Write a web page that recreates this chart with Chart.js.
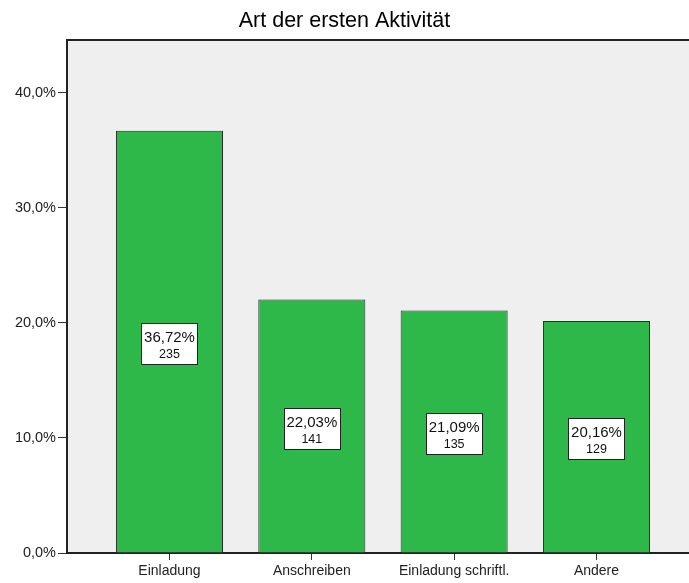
<!DOCTYPE html>
<html>
<head>
<meta charset="utf-8">
<script src="https://cdn.jsdelivr.net/npm/chart.js@4"></script>
<style>
html,body{margin:0;padding:0;background:#fff;overflow:hidden}
#wrap{width:689px;height:583px;position:relative}
</style>
</head>
<body>
<div id="wrap"><canvas id="c" width="689" height="583"></canvas></div>
<script>
const titleText = 'Art der ersten Aktivität';
const categories = ['Einladung', 'Anschreiben', 'Einladung schriftl.', 'Andere'];
const percents = [36.72, 22.03, 21.09, 20.16];
const counts = [235, 141, 135, 129];
const yTicks = [0, 10, 20, 30, 40];

const FONT = '"Liberation Sans", Arial, sans-serif';

const bgPlugin = {
  id: 'bg',
  beforeDraw(chart) {
    const {ctx, chartArea: a} = chart;
    ctx.save();
    ctx.fillStyle = '#efefef';
    ctx.fillRect(a.left, a.top, a.right - a.left, a.bottom - a.top);
    ctx.strokeStyle = '#222';
    ctx.lineWidth = 2;
    ctx.beginPath();
    ctx.moveTo(a.left, a.top);
    ctx.lineTo(a.right, a.top);
    ctx.stroke();
    ctx.restore();
  }
};

const labelPlugin = {
  id: 'boxLabels',
  afterDatasetsDraw(chart) {
    const {ctx} = chart;
    const meta = chart.getDatasetMeta(0);
    meta.data.forEach((bar, i) => {
      const l1 = percents[i].toFixed(2).replace('.', ',') + '%';
      const l2 = String(counts[i]);
      ctx.save();
      ctx.font = '15px ' + FONT;
      const w1 = ctx.measureText(l1).width;
      ctx.font = '12.5px ' + FONT;
      const w2 = ctx.measureText(l2).width;
      const bw = Math.round(Math.max(w1, w2) + 5);
      const bh = 41;
      const yc = (bar.y + bar.base) / 2 + 2;
      const top = Math.round(yc - bh / 2) + 0.5;
      const left = Math.round(bar.x - bw / 2) + 0.5;
      ctx.fillStyle = '#fff';
      ctx.fillRect(left, top, bw, bh);
      ctx.strokeStyle = '#222';
      ctx.lineWidth = 1;
      ctx.strokeRect(left, top, bw, bh);
      ctx.fillStyle = '#111';
      ctx.textAlign = 'center';
      ctx.textBaseline = 'alphabetic';
      ctx.font = '15px ' + FONT;
      ctx.fillText(l1, bar.x, top + 18.5);
      ctx.font = '12.5px ' + FONT;
      ctx.fillText(l2, bar.x, top + 34);
      ctx.restore();
    });
  }
};

new Chart(document.getElementById('c'), {
  type: 'bar',
  data: {
    datasets: [{
      data: percents.map((v, i) => ({x: i, y: v})),
      backgroundColor: '#2eb84a',
      borderColor: '#2a2a2a',
      borderWidth: 1,
      categoryPercentage: 1,
      barPercentage: 0.752
    }]
  },
  options: {
    responsive: false,
    animation: false,
    layout: {padding: 0},
    plugins: {
      legend: {display: false},
      tooltip: {enabled: false},
      title: {
        display: true,
        text: titleText,
        color: '#000',
        font: {family: FONT, size: 21.5, weight: 'normal'},
        padding: {top: 8, bottom: 6.2}
      }
    },
    scales: {
      x: {
        type: 'linear',
        offset: false,
        min: -0.72,
        max: 3.65,
        afterBuildTicks(scale) { scale.ticks = categories.map((_, i) => ({value: i})); },
        afterFit(scale) { scale.height = 30; },
        grid: {display: true, offset: false, drawOnChartArea: false, drawTicks: true, tickLength: 7, color: '#333'},
        border: {display: true, color: '#222', width: 2},
        ticks: {
          autoSkip: false, maxRotation: 0, padding: 3,
          color: '#222',
          font: {family: FONT, size: 14},
          callback: (v) => categories[v]
        }
      },
      y: {
        min: 0,
        max: 44.6,
        afterBuildTicks(scale) { scale.ticks = yTicks.map(v => ({value: v})); },
        afterFit(scale) { scale.width = 67; },
        grid: {display: true, drawOnChartArea: false, drawTicks: true, tickLength: 9, color: '#333'},
        border: {display: true, color: '#222', width: 2},
        ticks: {
          padding: 2,
          color: '#222',
          font: {family: FONT, size: 14.5},
          callback: (v) => v.toFixed(1).replace('.', ',') + '%'
        }
      }
    }
  },
  plugins: [bgPlugin, labelPlugin]
});
</script>
</body>
</html>
